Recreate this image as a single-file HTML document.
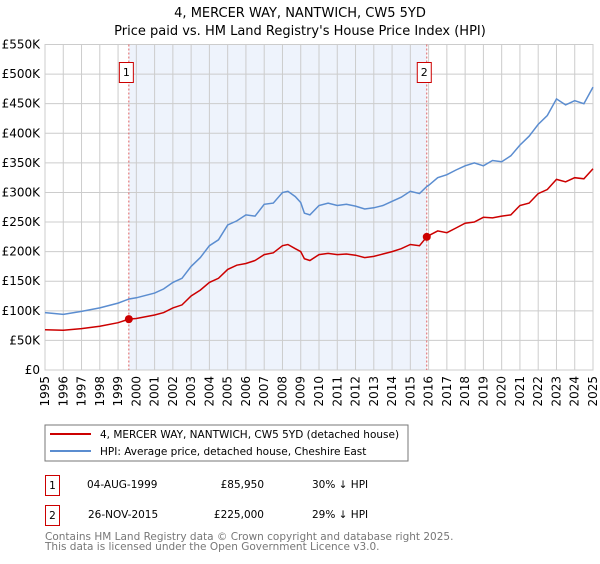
<!DOCTYPE html>
<html><head><meta charset="utf-8"><style>
body{margin:0;background:#fff;font-family:"DejaVu Sans","Liberation Sans",sans-serif;}
svg text{font-family:"DejaVu Sans","Liberation Sans",sans-serif;}
</style></head><body>
<svg id="c" width="600" height="560" xmlns="http://www.w3.org/2000/svg">
<text x="300" y="17" text-anchor="middle" font-size="13">4, MERCER WAY, NANTWICH, CW5 5YD</text>
<text x="300" y="35" text-anchor="middle" font-size="13">Price paid vs. HM Land Registry's House Price Index (HPI)</text>
<g id="plot"></g>
<rect x="45" y="425" width="363" height="36" fill="none" stroke="#777"/>
<line x1="50" y1="434" x2="91" y2="434" stroke="#cc0000" stroke-width="2"/>
<text x="100" y="438" font-size="10.5">4, MERCER WAY, NANTWICH, CW5 5YD (detached house)</text>
<line x1="50" y1="451" x2="91" y2="451" stroke="#5b8dd0" stroke-width="2"/>
<text x="100" y="455" font-size="10.5">HPI: Average price, detached house, Cheshire East</text>
<g font-size="10.5">
<rect x="45.5" y="475.5" width="14" height="20" fill="none" stroke="#cc0000"/>
<text x="52.5" y="489" text-anchor="middle">1</text>
<text x="87" y="488">04-AUG-1999</text>
<text x="264" y="488" text-anchor="end">£85,950</text>
<text x="312" y="488">30% ↓ HPI</text></g>
<g font-size="10.5">
<rect x="45.5" y="505.5" width="14" height="20" fill="none" stroke="#cc0000"/>
<text x="52.5" y="519" text-anchor="middle">2</text>
<text x="88" y="518">26-NOV-2015</text>
<text x="264" y="518" text-anchor="end">£225,000</text>
<text x="312" y="518">29% ↓ HPI</text></g>
<text x="45" y="540" font-size="10.5" fill="#777">Contains HM Land Registry data © Crown copyright and database right 2025.</text>
<text x="45" y="550" font-size="10.5" fill="#777">This data is licensed under the Open Government Licence v3.0.</text>
</svg>
<script>
const years=[1995,1996,1997,1998,1999,1999.6,2000,2001,2001.5,2002,2002.5,2003,2003.5,2004,2004.5,2005,2005.5,2006,2006.5,2007,2007.5,2008,2008.3,2008.7,2009,2009.2,2009.5,2010,2010.5,2011,2011.5,2012,2012.5,2013,2013.5,2014,2014.5,2015,2015.5,2015.9,2016,2016.5,2017,2017.5,2018,2018.5,2019,2019.5,2020,2020.5,2021,2021.5,2022,2022.5,2023,2023.5,2024,2024.5,2025];
const hpiValues=[97,94,99,105,113,120,122,130,137,148,155,175,190,210,220,245,252,262,260,280,282,300,302,293,283,265,262,278,282,278,280,277,272,274,278,285,292,302,298,310,312,325,330,338,345,350,345,354,352,362,380,395,415,430,458,448,455,450,478];
const propValues=[68,67,70,74,80,86,87,93,97,105,110,125,135,148,155,170,177,180,185,195,198,210,212,205,200,188,185,195,197,195,196,194,190,192,196,200,205,212,210,225,227,235,232,240,248,250,258,257,260,262,278,282,298,305,322,318,325,323,340];
const saleYears=[1999.59,2015.9];
const salePrices=[85.95,225];
const yTicks=[0,50,100,150,200,250,300,350,400,450,500,550];
const yTickLabels=["£0","£50K","£100K","£150K","£200K","£250K","£300K","£350K","£400K","£450K","£500K","£550K"];
const x0=45,x1=593,y0=370,y1=44.5;
const X=y=>x0+(y-1995)*(x1-x0)/30;
const Y=v=>y0-v*(y0-y1)/550;
const NS="http://www.w3.org/2000/svg";
const g=document.getElementById('plot');
function el(t,a){const e=document.createElementNS(NS,t);for(const k in a)e.setAttribute(k,a[k]);g.appendChild(e);return e;}
let r=el('rect',{x:X(saleYears[0]),y:y1,width:X(saleYears[1])-X(saleYears[0]),height:y0-y1,fill:'#eef3fc'});


for(let i=0;i<yTicks.length;i++){
 let l=el('line',{x1:x0,x2:x1,y1:Y(yTicks[i]),y2:Y(yTicks[i]),stroke:'#ccc'});
 
 
 let t=el('text',{x:40,y:Y(yTicks[i])+4,'text-anchor':'end','font-size':'12'});
 t.textContent=yTickLabels[i];
 
 
}
for(let yr=1995;yr<=2025;yr++){
 let l=el('line',{x1:X(yr),x2:X(yr),y1:y1,y2:y0,stroke:yr==2025?'#888':'#ccc'});
 
 
 let t=el('text',{x:0,y:0,'font-size':'12','text-anchor':'end',transform:`translate(${X(yr)+4},376) rotate(-90)`});
 t.textContent=yr;
 
 
}
let b=el('rect',{x:x0,y:y1,width:x1-x0,height:y0-y1,fill:'none',stroke:'#ccc'});


for(let i=0;i<saleYears.length;i++){
 let l=el('line',{x1:X(saleYears[i]),x2:X(saleYears[i]),y1:y1,y2:y0,stroke:'#e06060','stroke-dasharray':'2,2'});
 
 
 let bx=el('rect',{x:X(saleYears[i])-9.5,y:62.5,width:14,height:20,fill:'#fff',stroke:'#cc0000'});
 
 
 let t=el('text',{x:X(saleYears[i])-2.5,y:76,'text-anchor':'middle','font-size':'11'});
 t.textContent=String(i+1);
 
 
}
const pts=a=>a.map((v,i)=>X(years[i]).toFixed(1)+','+Y(v).toFixed(1)).join(' ');
let h=el('polyline',{points:pts(hpiValues),fill:'none',stroke:'#5b8dd0','stroke-width':1.5});


let p=el('polyline',{points:pts(propValues),fill:'none',stroke:'#cc0000','stroke-width':1.5});


for(let i=0;i<saleYears.length;i++){
 let c=el('circle',{cx:X(saleYears[i]),cy:Y(salePrices[i]),r:4,fill:'#cc0000'});
 
 
}
</script>
</body></html>
